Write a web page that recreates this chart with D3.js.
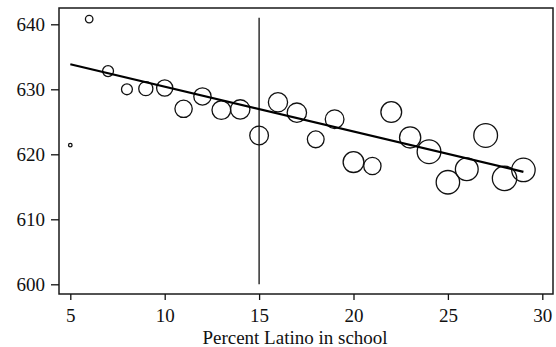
<!DOCTYPE html>
<html>
<head>
<meta charset="utf-8">
<script src="https://cdn.jsdelivr.net/npm/d3@7"></script>
<style>
  body { margin: 0; background: #fff; }
  svg { display: block; }
</style>
</head>
<body>
<svg width="556" height="347"></svg>
<script>
// percent Latino in school (x), mean score (y), bubble weight (size)
var pctLatino = [5, 6, 7, 8, 9, 10, 11, 12, 13, 14, 15, 16, 17, 18, 19, 20, 21, 22, 23, 24, 25, 26, 27, 28, 29];
var meanScore = [621.4, 640.8, 632.8, 630.0, 630.1, 630.2, 627.0, 628.9, 626.8, 626.9, 622.9, 628.0, 626.4,
                 622.3, 625.4, 618.8, 618.2, 626.5, 622.6, 620.4, 615.7, 617.7, 622.9, 616.3, 617.6];
var weight    = [2, 9, 19, 19, 32, 42, 48, 48, 56, 60, 56, 59, 60, 45, 56, 69, 48, 69, 72, 90, 88, 83, 90, 95, 88];

// fitted regression line end points
var fitX = [5, 29],
    fitY = [633.85, 617.3];

var cutoff = 15;           // vertical reference line
var xTicks = [5, 10, 15, 20, 25, 30],
    yTicks = [600, 610, 620, 630, 640];
var xTitle = "Percent Latino in school";

var FONT = '"Liberation Serif", "Times New Roman", serif';

var svg = d3.select("svg");

var x = d3.scaleLinear().domain([5, 30]).range([70.3, 542.3]),
    y = d3.scaleLinear().domain([600, 640]).range([284.3, 24.3]),
    r = d3.scaleSqrt().domain([0, 100]).range([0, 12.5]);

var frame = {left: 59, right: 553, top: 8, bottom: 294};

// plot frame
svg.append("rect")
    .attr("x", frame.left)
    .attr("y", frame.top)
    .attr("width", frame.right - frame.left)
    .attr("height", frame.bottom - frame.top)
    .attr("fill", "none")
    .attr("stroke", "#1a1a1a")
    .attr("stroke-width", 1.5);

function styleAxis(g) {
  g.attr("font-family", FONT).attr("font-size", 19);
  g.select(".domain").remove();
  g.selectAll("line").attr("stroke", "#111").attr("stroke-width", 1.3);
  g.selectAll("text")
      .style("font-family", FONT)
      .style("font-size", "19px")
      .attr("fill", "#111");
}

// x axis
svg.append("g")
    .attr("transform", "translate(0," + frame.bottom + ")")
    .call(d3.axisBottom(x).tickValues(xTicks).tickSize(6).tickPadding(9).tickSizeOuter(0))
    .call(styleAxis);

// y axis
svg.append("g")
    .attr("transform", "translate(" + frame.left + ",0)")
    .call(d3.axisLeft(y).tickValues(yTicks).tickSize(8).tickPadding(6).tickSizeOuter(0))
    .call(styleAxis);

svg.append("text")
    .attr("x", 295)
    .attr("y", 344)
    .attr("text-anchor", "middle")
    .style("font-family", FONT)
    .style("font-size", "19px")
    .attr("fill", "#111")
    .text(xTitle);

// vertical reference line
svg.append("line")
    .attr("x1", x(cutoff)).attr("x2", x(cutoff))
    .attr("y1", y(600)).attr("y2", y(641))
    .attr("stroke", "#111")
    .attr("stroke-width", 1.3);

// bubbles
svg.append("g")
    .selectAll("circle")
    .data(pctLatino)
    .enter().append("circle")
      .attr("cx", function(d){return x(d);})
      .attr("cy", function(d, i){return y(meanScore[i]);})
      .attr("r", function(d, i){return r(weight[i]);})
      .attr("fill", "none")
      .attr("stroke", "#111")
      .attr("stroke-width", 1.3);

// fitted line
svg.append("line")
    .attr("x1", x(fitX[0])).attr("y1", y(fitY[0]))
    .attr("x2", x(fitX[1])).attr("y2", y(fitY[1]))
    .attr("stroke", "#000")
    .attr("stroke-width", 2.2);
</script>
</body>
</html>
